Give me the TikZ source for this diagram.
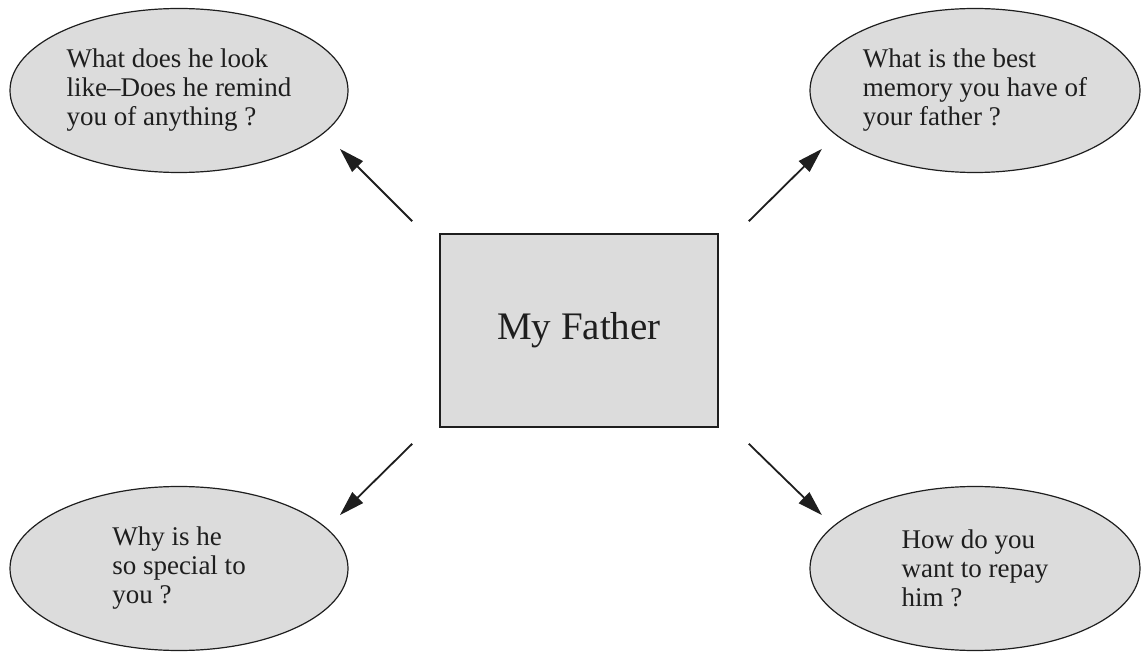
\documentclass[tikz,border=0pt]{standalone}
\usepackage{fontspec}
\setmainfont{Liberation Serif}
\usetikzlibrary{shapes.geometric,arrows.meta}
\definecolor{bubblegray}{HTML}{DCDCDC}
\definecolor{inkgray}{HTML}{1E1E1E}

\def\bubH{164}
\def\bubLW{338}
\def\bubRW{330}

\begin{document}
\begin{tikzpicture}[x=1pt, y=-1pt, >={Triangle[length=25pt,width=15pt]},
  bubble/.style={ellipse, draw=inkgray, line width=1.2pt, fill=bubblegray,
    minimum height=\bubH pt, inner sep=0pt, align=left, text=inkgray,
    font=\fontsize{27}{29}\selectfont},
  topic/.style={rectangle, draw=inkgray, line width=1.6pt, fill=bubblegray,
    minimum width=278pt, minimum height=193pt, text=inkgray,
    font=\fontsize{39}{45}\selectfont},
  link/.style={->, line width=1.8pt, draw=inkgray}]
  \useasboundingbox (0,0) rectangle (1141,652);
        \node[topic] (father) at (579,330.5) {My Father};
        \node[bubble, minimum width=\bubLW pt] (look) at (179,90.5)
          {What does he look\\like--Does he remind\\you of anything ?};
        \node[bubble, minimum width=\bubRW pt] (memory) at (975,90.5)
          {What is the best\\memory you have of\\your father ?};
        \node[bubble, minimum width=\bubLW pt] (special) at (179,568.5)
          {Why is he\\so special to\\you ?};
        \node[bubble, minimum width=\bubRW pt] (repay) at (975,568.5)
          {How do you\\want to repay\\him ?};
        \draw[link] ([xshift=-27pt,yshift=12pt]father.north west) -- ([xshift=41pt]look.south east);
        \draw[link] ([xshift=30pt,yshift=12pt]father.north east) -- ([xshift=-36pt]memory.south west);
        \draw[link] ([xshift=-27pt,yshift=-16pt]father.south west) -- ([xshift=41pt,yshift=-5pt]special.north east);
        \draw[link] ([xshift=30pt,yshift=-16pt]father.south east) -- ([xshift=-36pt,yshift=-5pt]repay.north west);
      \end{tikzpicture}
\end{document}
